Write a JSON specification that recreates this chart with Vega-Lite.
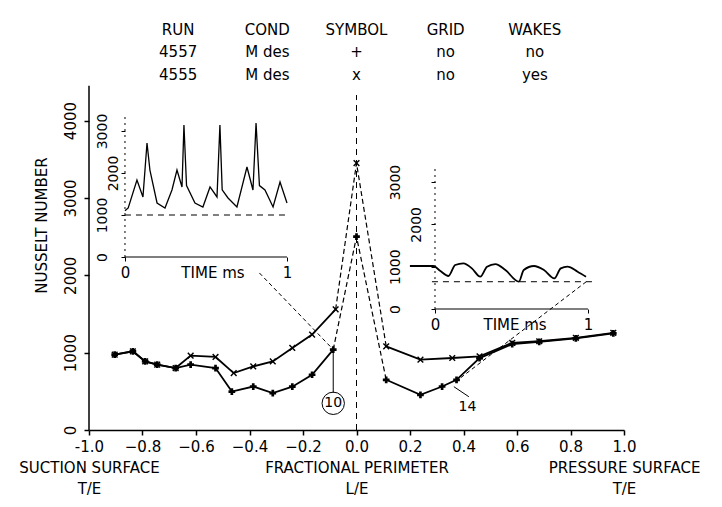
{
  "$schema": "https://vega.github.io/schema/vega-lite/v6.json",
  "width": 535,
  "height": 410,
  "autosize": {"type": "none"},
  "padding": {"left": 89, "top": 20, "right": 98, "bottom": 77},
  "background": "white",
  "config": {
    "view": {"stroke": null},
    "font": "DejaVu Sans",
    "axis": {"grid": false, "domainColor": "black", "tickColor": "black", "labelColor": "black", "titleColor": "black", "labelFontSize": 15, "titleFontSize": 15, "titleFontWeight": "normal", "labelFont": "DejaVu Sans", "titleFont": "DejaVu Sans", "labelLimit": 0},
    "text": {"font": "DejaVu Sans", "color": "black"}
  },
  "datasets": {
    "nusselt": [
      {"run": "4555", "surface": "suction", "x": -0.904, "nu": 974},
      {"run": "4555", "surface": "suction", "x": -0.836, "nu": 1017},
      {"run": "4555", "surface": "suction", "x": -0.79, "nu": 887},
      {"run": "4555", "surface": "suction", "x": -0.745, "nu": 844},
      {"run": "4555", "surface": "suction", "x": -0.676, "nu": 801},
      {"run": "4555", "surface": "suction", "x": -0.62, "nu": 961},
      {"run": "4555", "surface": "suction", "x": -0.527, "nu": 944},
      {"run": "4555", "surface": "suction", "x": -0.459, "nu": 736},
      {"run": "4555", "surface": "suction", "x": -0.386, "nu": 822},
      {"run": "4555", "surface": "suction", "x": -0.313, "nu": 887},
      {"run": "4555", "surface": "suction", "x": -0.24, "nu": 1061},
      {"run": "4555", "surface": "suction", "x": -0.166, "nu": 1234},
      {"run": "4555", "surface": "suction", "x": -0.078, "nu": 1560},
      {"run": "4555", "surface": "LE", "x": 0, "nu": 3450},
      {"run": "4555", "surface": "pressure", "x": 0.111, "nu": 1082},
      {"run": "4555", "surface": "pressure", "x": 0.239, "nu": 909},
      {"run": "4555", "surface": "pressure", "x": 0.358, "nu": 931},
      {"run": "4555", "surface": "pressure", "x": 0.46, "nu": 952},
      {"run": "4555", "surface": "pressure", "x": 0.582, "nu": 1126},
      {"run": "4555", "surface": "pressure", "x": 0.683, "nu": 1147},
      {"run": "4555", "surface": "pressure", "x": 0.82, "nu": 1191},
      {"run": "4555", "surface": "pressure", "x": 0.96, "nu": 1256},
      {"run": "4557", "surface": "suction", "x": -0.904, "nu": 974},
      {"run": "4557", "surface": "suction", "x": -0.836, "nu": 1017},
      {"run": "4557", "surface": "suction", "x": -0.79, "nu": 887},
      {"run": "4557", "surface": "suction", "x": -0.745, "nu": 844},
      {"run": "4557", "surface": "suction", "x": -0.676, "nu": 801},
      {"run": "4557", "surface": "suction", "x": -0.62, "nu": 844},
      {"run": "4557", "surface": "suction", "x": -0.527, "nu": 801},
      {"run": "4557", "surface": "suction", "x": -0.466, "nu": 497},
      {"run": "4557", "surface": "suction", "x": -0.386, "nu": 562},
      {"run": "4557", "surface": "suction", "x": -0.313, "nu": 477},
      {"run": "4557", "surface": "suction", "x": -0.24, "nu": 560},
      {"run": "4557", "surface": "suction", "x": -0.166, "nu": 714},
      {"run": "4557", "surface": "suction", "x": -0.087, "nu": 1039},
      {"run": "4557", "surface": "LE", "x": 0, "nu": 2500},
      {"run": "4557", "surface": "pressure", "x": 0.111, "nu": 649},
      {"run": "4557", "surface": "pressure", "x": 0.239, "nu": 455},
      {"run": "4557", "surface": "pressure", "x": 0.32, "nu": 562},
      {"run": "4557", "surface": "pressure", "x": 0.374, "nu": 649},
      {"run": "4557", "surface": "pressure", "x": 0.46, "nu": 930},
      {"run": "4557", "surface": "pressure", "x": 0.582, "nu": 1110},
      {"run": "4557", "surface": "pressure", "x": 0.683, "nu": 1140},
      {"run": "4557", "surface": "pressure", "x": 0.82, "nu": 1185},
      {"run": "4557", "surface": "pressure", "x": 0.96, "nu": 1250}
    ],
    "inset1": [
      {"t1": 0.0, "n1": 1100}, {"t1": 0.02, "n1": 1167}, {"t1": 0.074, "n1": 1833}, {"t1": 0.111, "n1": 1429},
      {"t1": 0.136, "n1": 2714}, {"t1": 0.154, "n1": 2071}, {"t1": 0.198, "n1": 1286}, {"t1": 0.247, "n1": 1167},
      {"t1": 0.29, "n1": 1595}, {"t1": 0.321, "n1": 2071}, {"t1": 0.352, "n1": 1667}, {"t1": 0.364, "n1": 3143},
      {"t1": 0.38, "n1": 1700}, {"t1": 0.432, "n1": 1286}, {"t1": 0.481, "n1": 1190}, {"t1": 0.525, "n1": 1667},
      {"t1": 0.568, "n1": 1429}, {"t1": 0.586, "n1": 3143}, {"t1": 0.6, "n1": 1600}, {"t1": 0.636, "n1": 1405},
      {"t1": 0.691, "n1": 1190}, {"t1": 0.753, "n1": 2143}, {"t1": 0.79, "n1": 1595}, {"t1": 0.809, "n1": 3190},
      {"t1": 0.83, "n1": 1700}, {"t1": 0.864, "n1": 1595}, {"t1": 0.914, "n1": 1190}, {"t1": 0.957, "n1": 1786},
      {"t1": 1.0, "n1": 1286}
    ],
    "inset2": [
      {"t2": -0.164, "n2": 1016}, {"t2": -0.011, "n2": 1016}, {"t2": 0.033, "n2": 905}, {"t2": 0.088, "n2": 780},
      {"t2": 0.132, "n2": 1040}, {"t2": 0.186, "n2": 1080}, {"t2": 0.241, "n2": 960}, {"t2": 0.296, "n2": 764},
      {"t2": 0.34, "n2": 1000}, {"t2": 0.395, "n2": 1063}, {"t2": 0.46, "n2": 921}, {"t2": 0.548, "n2": 645},
      {"t2": 0.58, "n2": 921}, {"t2": 0.647, "n2": 1016}, {"t2": 0.712, "n2": 921}, {"t2": 0.78, "n2": 725},
      {"t2": 0.822, "n2": 961}, {"t2": 0.866, "n2": 1000}, {"t2": 0.932, "n2": 882}, {"t2": 0.987, "n2": 764}
    ],
    "header": [
      {"row": 0, "col": "RUN", "text": "RUN"},
      {"row": 0, "col": "COND", "text": "COND"},
      {"row": 0, "col": "SYMBOL", "text": "SYMBOL"},
      {"row": 0, "col": "GRID", "text": "GRID"},
      {"row": 0, "col": "WAKES", "text": "WAKES"},
      {"row": 1, "col": "RUN", "text": "4557"},
      {"row": 1, "col": "COND", "text": "M des"},
      {"row": 1, "col": "SYMBOL", "text": "+"},
      {"row": 1, "col": "GRID", "text": "no"},
      {"row": 1, "col": "WAKES", "text": "no"},
      {"row": 2, "col": "RUN", "text": "4555"},
      {"row": 2, "col": "COND", "text": "M des"},
      {"row": 2, "col": "SYMBOL", "text": "x"},
      {"row": 2, "col": "GRID", "text": "no"},
      {"row": 2, "col": "WAKES", "text": "yes"}
    ],
    "notes": [
      {"x": -0.087, "nu": 345, "label": "10", "circled": true},
      {"x": 0.415, "nu": 301, "label": "14", "circled": false}
    ],
    "leaders": [
      {"x": -0.363, "nu": 2030, "x2": -0.087, "nu2": 1040, "kind": "arrow"},
      {"x": 0.859, "nu": 1917, "x2": 0.37, "nu2": 624, "kind": "arrow"},
      {"x": -0.087, "nu": 480, "x2": -0.087, "nu2": 1000, "kind": "tag"},
      {"x": 0.364, "nu": 560, "x2": 0.42, "nu2": 430, "kind": "tag"}
    ]
  },
  "layer": [
    {
      "layer": [
        {
          "data": {"name": "nusselt"},
          "transform": [{"filter": "datum.surface != 'LE'"}],
          "mark": {"type": "line", "color": "black", "strokeWidth": 1.8},
          "encoding": {
            "x": {
              "field": "x", "type": "quantitative",
              "scale": {"domain": [-1, 1], "nice": false, "zero": false},
              "axis": {
                "values": [-1, -0.8, -0.6, -0.4, -0.2, 0, 0.2, 0.4, 0.6, 0.8, 1],
                "labelExpr": "datum.value == -1 ? ['-1.0', 'SUCTION SURFACE', 'T/E'] : datum.value == 0 ? ['0.0', 'FRACTIONAL PERIMETER', 'L/E'] : datum.value == 1 ? ['1.0', 'PRESSURE SURFACE', 'T/E'] : format(datum.value, '.1f')",
                "title": null, "tickSize": 5, "labelPadding": 4, "labelLineHeight": 21, "labelLimit": 0,
                "labelOverlap": false, "labelFlush": false, "labelBaseline": "top",
                "domainWidth": 1.5, "tickWidth": 1.5
              }
            },
            "y": {
              "field": "nu", "type": "quantitative",
              "scale": {"domain": [0, 5300], "nice": false, "zero": false},
              "axis": {
                "values": [0, 1000, 2000, 3000, 4000], "format": "d", "labelAngle": 270, "labelAlign": "center",
                "labelBaseline": "bottom", "tickSize": 5, "labelPadding": 6, "domain": false,
                "title": "NUSSELT NUMBER", "titlePadding": 14, "tickWidth": 1.5
              }
            },
            "detail": [{"field": "run", "type": "nominal"}, {"field": "surface", "type": "nominal"}]
          }
        },
        {
          "data": {"name": "nusselt"},
          "transform": [{"filter": {"field": "x", "range": [-0.1, 0.12]}}],
          "mark": {"type": "line", "color": "black", "strokeWidth": 1.2, "strokeDash": [5, 3]},
          "encoding": {
            "x": {"field": "x", "type": "quantitative"},
            "y": {"field": "nu", "type": "quantitative"},
            "detail": {"field": "run", "type": "nominal"}
          }
        },
        {
          "data": {"name": "nusselt"},
          "mark": {"type": "point", "filled": true, "color": "black", "size": 45, "opacity": 1},
          "encoding": {
            "x": {"field": "x", "type": "quantitative"},
            "y": {"field": "nu", "type": "quantitative"},
            "shape": {
              "field": "run", "type": "nominal",
              "scale": {"domain": ["4557", "4555"], "range": ["cross", "M-1,-0.7L-0.7,-1L0,-0.3L0.7,-1L1,-0.7L0.3,0L1,0.7L0.7,1L0,0.3L-0.7,1L-1,0.7L-0.3,0Z"]},
              "legend": null
            }
          }
        },
        {
          "data": {"values": [{}]},
          "mark": {"type": "rule", "color": "black", "strokeWidth": 1.5},
          "encoding": {
            "x": {"datum": -1, "type": "quantitative"},
            "y": {"datum": 0, "type": "quantitative"},
            "y2": {"datum": 4450}
          }
        },
        {
          "data": {"values": [{}]},
          "mark": {"type": "rule", "color": "black", "strokeWidth": 1, "strokeDash": [6, 5]},
          "encoding": {
            "x": {"datum": 0, "type": "quantitative"},
            "y": {"datum": 0, "type": "quantitative"},
            "y2": {"datum": 4330}
          }
        },
        {
          "data": {"name": "leaders"},
          "transform": [{"filter": "datum.kind == 'arrow'"}],
          "mark": {"type": "rule", "color": "black", "strokeWidth": 1, "strokeDash": [4, 3]},
          "encoding": {
            "x": {"field": "x", "type": "quantitative"},
            "y": {"field": "nu", "type": "quantitative"},
            "x2": {"field": "x2"},
            "y2": {"field": "nu2"}
          }
        },
        {
          "data": {"name": "leaders"},
          "transform": [{"filter": "datum.kind == 'tag'"}],
          "mark": {"type": "rule", "color": "black", "strokeWidth": 1},
          "encoding": {
            "x": {"field": "x", "type": "quantitative"},
            "y": {"field": "nu", "type": "quantitative"},
            "x2": {"field": "x2"},
            "y2": {"field": "nu2"}
          }
        },
        {
          "data": {"name": "notes"},
          "mark": {"type": "text", "fontSize": 14, "baseline": "middle", "align": "center"},
          "encoding": {
            "x": {"field": "x", "type": "quantitative"},
            "y": {"field": "nu", "type": "quantitative"},
            "text": {"field": "label"}
          }
        },
        {
          "data": {"name": "notes"},
          "transform": [{"filter": "datum.circled"}],
          "mark": {"type": "point", "shape": "circle", "filled": false, "color": "black", "size": 500, "strokeWidth": 1, "opacity": 1},
          "encoding": {
            "x": {"field": "x", "type": "quantitative"},
            "y": {"field": "nu", "type": "quantitative"}
          }
        }
      ]
    },
    {
      "layer": [
        {
          "data": {"name": "inset1"},
          "mark": {"type": "line", "color": "black", "strokeWidth": 1.3},
          "encoding": {
            "x": {
              "field": "t1", "type": "quantitative",
              "scale": {"domain": [-0.222, 3.080], "nice": false, "zero": false},
              "axis": {
                "orient": "bottom", "offset": -173, "domain": false, "values": [0, 0.54, 1],
                "labelExpr": "datum.value == 0 ? '0' : datum.value == 1 ? '1' : 'TIME ms'",
                "tickOpacity": {"condition": {"test": "datum.value > 0.1 && datum.value < 0.9", "value": 0}, "value": 1},
                "tickSize": 4, "labelPadding": 4, "title": null, "labelFlush": false, "labelOverlap": false
              }
            },
            "y": {
              "field": "n1", "type": "quantitative",
              "scale": {"domain": [-4119, 5643], "nice": false, "zero": false},
              "axis": {
                "orient": "left", "offset": -36, "domain": false, "values": [0, 1000, 2000, 3000], "format": "d",
                "labelAngle": 270, "labelAlign": "center", "labelBaseline": "bottom", "labelFontSize": 14,
                "labelPadding": {"condition": {"test": "datum.value == 2000", "value": 1}, "value": 12},
                "tickSize": 4, "title": null, "labelFlush": false, "labelOverlap": false
              }
            }
          }
        },
        {
          "data": {"values": [{}]},
          "mark": {"type": "rule", "color": "black", "strokeWidth": 1, "strokeDash": [6, 5]},
          "encoding": {
            "x": {"datum": 0, "type": "quantitative"},
            "x2": {"datum": 1},
            "y": {"datum": 1000, "type": "quantitative"}
          }
        },
        {
          "data": {"values": [{}]},
          "mark": {"type": "rule", "color": "black", "strokeWidth": 1.2},
          "encoding": {
            "x": {"datum": 0, "type": "quantitative"},
            "x2": {"datum": 1},
            "y": {"datum": 0, "type": "quantitative"}
          }
        },
        {
          "data": {"values": [{}]},
          "mark": {"type": "rule", "color": "black", "strokeWidth": 1, "strokeDash": [2, 4]},
          "encoding": {
            "x": {"datum": 0, "type": "quantitative"},
            "y": {"datum": 0, "type": "quantitative"},
            "y2": {"datum": 3400}
          }
        }
      ]
    },
    {
      "layer": [
        {
          "data": {"name": "inset2"},
          "mark": {"type": "line", "color": "black", "strokeWidth": 1.8, "interpolate": "monotone"},
          "encoding": {
            "x": {
              "field": "t2", "type": "quantitative",
              "scale": {"domain": [-2.2614, 1.2353], "nice": false, "zero": false},
              "axis": {
                "orient": "bottom", "offset": -121, "domain": false, "values": [0, 0.52, 1],
                "labelExpr": "datum.value == 0 ? '0' : datum.value == 1 ? '1' : 'TIME ms'",
                "tickOpacity": {"condition": {"test": "datum.value > 0.1 && datum.value < 0.9", "value": 0}, "value": 1},
                "tickSize": 4, "labelPadding": 4, "title": null, "labelFlush": false, "labelOverlap": false
              }
            },
            "y": {
              "field": "n2", "type": "quantitative",
              "scale": {"domain": [-2858, 6828], "nice": false, "zero": false},
              "axis": {
                "orient": "left", "offset": -346, "domain": false, "values": [0, 1000, 2000, 3000], "format": "d",
                "labelAngle": 270, "labelAlign": "center", "labelBaseline": "bottom", "labelFontSize": 14,
                "labelPadding": {"condition": {"test": "datum.value == 2000", "value": 8}, "value": 29},
                "tickSize": 4, "title": null, "labelFlush": false, "labelOverlap": false
              }
            }
          }
        },
        {
          "data": {"values": [{}]},
          "mark": {"type": "rule", "color": "black", "strokeWidth": 1, "strokeDash": [6, 5]},
          "encoding": {
            "x": {"datum": -0.02, "type": "quantitative"},
            "x2": {"datum": 1.04},
            "y": {"datum": 645, "type": "quantitative"}
          }
        },
        {
          "data": {"values": [{}]},
          "mark": {"type": "rule", "color": "black", "strokeWidth": 1.2},
          "encoding": {
            "x": {"datum": 0, "type": "quantitative"},
            "x2": {"datum": 1},
            "y": {"datum": 0, "type": "quantitative"}
          }
        },
        {
          "data": {"values": [{}]},
          "mark": {"type": "rule", "color": "black", "strokeWidth": 1, "strokeDash": [2, 4]},
          "encoding": {
            "x": {"datum": 0, "type": "quantitative"},
            "y": {"datum": 0, "type": "quantitative"},
            "y2": {"datum": 3400}
          }
        }
      ]
    },
    {
      "data": {"name": "header"},
      "mark": {"type": "text", "fontSize": 15, "baseline": "middle", "align": "center"},
      "encoding": {
        "x": {"field": "col", "type": "nominal", "scale": {"type": "point", "domain": ["RUN", "COND", "SYMBOL", "GRID", "WAKES"], "padding": 1.397}, "axis": null},
        "y": {"field": "row", "type": "quantitative", "scale": {"domain": [-0.444, 17.78], "reverse": true, "nice": false, "zero": false}, "axis": null},
        "text": {"field": "text"}
      }
    }
  ],
  "resolve": {"scale": {"x": "independent", "y": "independent"}}
}
